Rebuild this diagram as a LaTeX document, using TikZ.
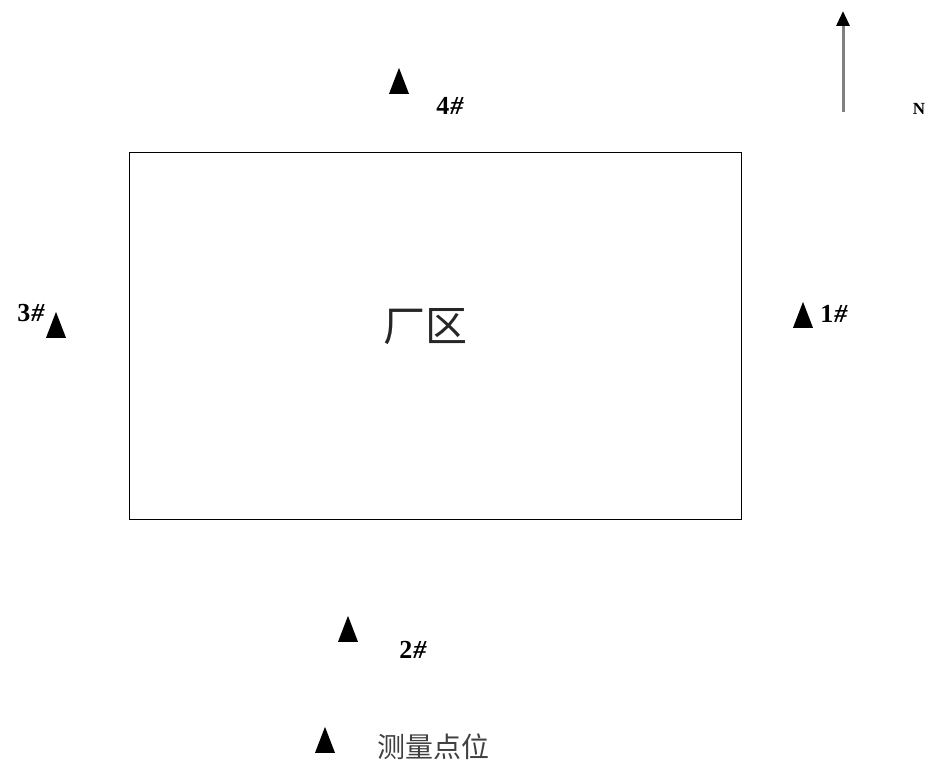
\documentclass[tikz,border=0pt]{standalone}
\usepackage{fontspec}
\setmainfont{Liberation Serif}
\newfontfamily\cjk{Noto Sans CJK SC}
\usetikzlibrary{shapes.geometric,arrows.meta}
\tikzset{
  pt/.style={isosceles triangle, isosceles triangle stretches, shape border rotate=90,
    fill=black, draw=none, minimum width=20pt, minimum height=26pt, inner sep=0pt},
  lbl/.style={font=\bfseries\fontsize{26}{26}\selectfont, inner sep=0pt},
  area/.style={draw=black, line width=1pt}
}
\newcommand{\hashmark}{\kern1pt\textit{\#}}
\begin{document}
\begin{tikzpicture}[x=1pt,y=-1pt]
\useasboundingbox (0,0) rectangle (930,767);
% plant area
\draw[area] (129,153) rectangle (741,519);
\node[font=\cjk\fontsize{42}{42}\selectfont, text=black!85] (area) at (425,327) {厂区};
% measuring points
\node[pt] (t4) at (399,87) {};
\node[lbl] (l4) at (450,106) {4\hashmark};
\node[pt] (t3) at (56,331) {};
\node[lbl] (l3) at (31,313) {3\hashmark};
\node[pt] (t1) at (803,321) {};
\node[lbl] (l1) at (834,314) {1\hashmark};
\node[pt] (t2) at (348,635) {};
\node[lbl] (l2) at (413,650) {2\hashmark};
% legend
\node[pt] (tl) at (325,746) {};
\node[font=\cjk\fontsize{28}{28}\selectfont, text=black!75, anchor=west, inner sep=0pt] (ll) at (377,747) {测量点位};
% north arrow
\coordinate (nS) at (843,112);
\coordinate (nE) at (843,11);
\draw[line width=3pt, black!50, -{Triangle[length=15pt,width=13pt,color=black]}] (nS) -- (nE);
\node[font=\bfseries\fontsize{17}{17}\selectfont, inner sep=0pt] (N) at (919,109) {N};
\end{tikzpicture}
\end{document}
